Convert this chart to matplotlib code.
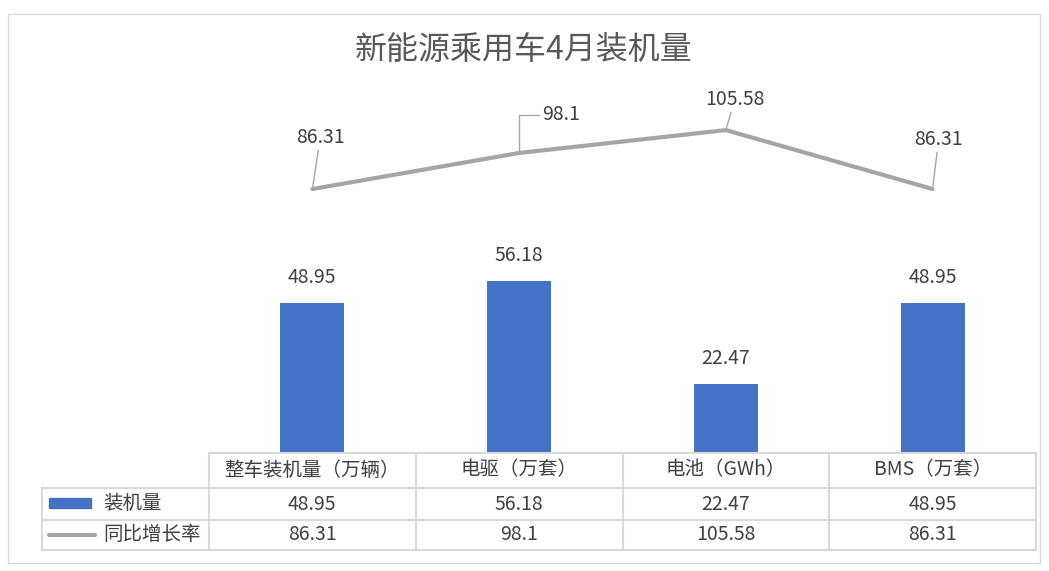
import matplotlib.pyplot as plt
from matplotlib.transforms import blended_transform_factory
from matplotlib.patches import Rectangle
from matplotlib.lines import Line2D

plt.rcParams['font.family'] = ['Noto Sans CJK SC', 'DejaVu Sans']

# data
categories = ['整车装机量（万辆）', '电驱（万套）', '电池（GWh）', 'BMS（万套）']
installed = [48.95, 56.18, 22.47, 48.95]
yoy_growth = [86.31, 98.1, 105.58, 86.31]
series_names = ['装机量', '同比增长率']
title = '新能源乘用车4月装机量'

W, H = 1049, 571
bar_color = '#4472C4'
line_color = '#A5A5A5'
grid_color = '#D9D9D9'
text_color = '#404040'

fig = plt.figure(figsize=(W / 100, H / 100), dpi=100)

def fx(px):
    return px / W

def fy(py):
    return 1 - py / H

# plot area (pixel bounds)
left, right, top, bottom = 209, 1036, 86, 453
ax = fig.add_axes([fx(left), fy(bottom), fx(right - left), (bottom - top) / H])
x = list(range(len(categories)))
ax.bar(x, installed, width=0.31, color=bar_color, zorder=2)
ax.plot(x, yoy_growth, color=line_color, lw=3, solid_capstyle='round', zorder=3)
ax.set_xlim(-0.5, len(categories) - 0.5)
ax.set_ylim(0, 120)
ax.axis('off')

# bar labels
for xi, v in zip(x, installed):
    ax.annotate(f'{v:g}', (xi, v), xytext=(0, 26), textcoords='offset pixels',
                ha='center', va='center', fontsize=14, color=text_color)

# line labels with leader lines
offsets = [(8, 52), (42, 38), (9, 31), (6, 50)]
for i, (xi, v) in enumerate(zip(x, yoy_growth)):
    cs = 'angle,angleA=0,angleB=90,rad=0' if i == 1 else 'arc3'
    ax.annotate(f'{v:g}', (xi, v), xytext=offsets[i], textcoords='offset pixels',
                ha='center', va='center', fontsize=14, color=text_color,
                arrowprops=dict(arrowstyle='-', color='#A6A6A6', lw=1,
                                connectionstyle=cs, shrinkA=0, shrinkB=1))

# title
fig.text(fx(524), fy(50), title, ha='center', va='center', fontsize=23, color='#595959')

# data table
tr = blended_transform_factory(ax.transData, fig.transFigure)
row_y = [453, 488, 520, 550]
edges = [i - 0.5 for i in range(len(categories) + 1)]
lkw = dict(color=grid_color, lw=1.5, clip_on=False)

ax.add_line(Line2D([edges[0], edges[-1]], [fy(row_y[0])] * 2, transform=tr, **lkw))
for yy in row_y[1:]:
    fig.add_artist(Line2D([fx(42), fx(right)], [fy(yy)] * 2, **lkw))
fig.add_artist(Line2D([fx(42), fx(42)], [fy(row_y[1]), fy(row_y[3])], **lkw))
for e in edges:
    ax.add_line(Line2D([e, e], [fy(row_y[0]), fy(row_y[3])], transform=tr, **lkw))

tkw = dict(ha='center', va='center', fontsize=14, color=text_color, transform=tr)
for xi, cat, v1, v2 in zip(x, categories, installed, yoy_growth):
    ax.text(xi, fy(470), cat, **tkw)
    ax.text(xi, fy(504), f'{v1:g}', **tkw)
    ax.text(xi, fy(535), f'{v2:g}', **tkw)

# legend keys in the row headers
fig.add_artist(Rectangle((fx(49), fy(508)), fx(42), 10 / H, color=bar_color))
fig.add_artist(Line2D([fx(49), fx(95)], [fy(535)] * 2, color=line_color, lw=3,
                      solid_capstyle='round'))
fig.text(fx(103), fy(503), series_names[0], ha='left', va='center', fontsize=14, color=text_color)
fig.text(fx(103), fy(535), series_names[1], ha='left', va='center', fontsize=14, color=text_color)

# outer chart border
fig.add_artist(Rectangle((fx(8), fy(563)), fx(1032), (563 - 14) / H, fill=False,
                         edgecolor=grid_color, lw=1))

fig.savefig('out.png', dpi=100)
